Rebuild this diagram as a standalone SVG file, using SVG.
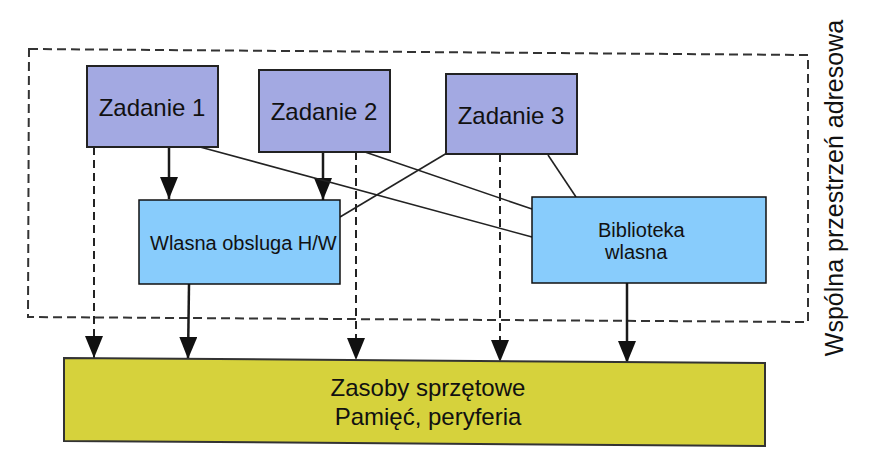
<svg xmlns="http://www.w3.org/2000/svg" width="882" height="469" viewBox="0 0 882 469">
<style>
text{font-family:"Liberation Sans",Arial,sans-serif;fill:#111}
.task{fill:#a3a9e2;stroke:#222;stroke-width:2}
.blue{fill:#88ccfc;stroke:#111;stroke-width:1.5}
.hw{fill:#d6d23c;stroke:#333;stroke-width:2}
.solid{stroke:#1a1a1a;stroke-width:2.5;fill:none}
.thin{stroke:#222;stroke-width:1.6;fill:none}
.dash{stroke:#222;stroke-width:2;stroke-dasharray:8 5;fill:none}
</style>
<defs>
<marker id="ah" viewBox="0 0 22 18" refX="22" refY="9" markerWidth="22" markerHeight="18" markerUnits="userSpaceOnUse" orient="auto">
<path d="M0,0 L22,9 L0,18 z" fill="#111"/>
</marker>
</defs>
<rect width="882" height="469" fill="#ffffff"/>
<g id="address-space">
<polygon points="29,49 808,55 808,322 28,317" fill="none" stroke="#333" stroke-width="2" stroke-dasharray="9 5"/>
<text transform="translate(843,188) rotate(-90)" text-anchor="middle" font-size="25">Wspólna przestrzeń adresowa</text>
</g>
<g id="connectors">
<line class="solid" x1="169" y1="147" x2="169" y2="199" marker-end="url(#ah)"/>
<line class="solid" x1="323" y1="152" x2="323" y2="200" marker-end="url(#ah)"/>
<line class="dash" x1="94" y1="147" x2="94" y2="358" marker-end="url(#ah)"/>
<line class="solid" x1="189" y1="284" x2="188" y2="359" stroke-width="2" marker-end="url(#ah)"/>
<line class="dash" x1="356" y1="152" x2="356" y2="360" marker-end="url(#ah)"/>
<line class="dash" x1="500" y1="154" x2="500" y2="362" marker-end="url(#ah)"/>
<line class="solid" x1="627" y1="283" x2="627" y2="363" stroke-width="2" marker-end="url(#ah)"/>
<line class="thin" x1="200" y1="147" x2="532" y2="237"/>
<line class="thin" x1="365" y1="152" x2="532" y2="209"/>
<line class="thin" x1="447" y1="153" x2="340" y2="217"/>
<line class="thin" x1="548" y1="155" x2="576" y2="197"/>
</g>
<g id="zadanie1">
<rect class="task" x="87" y="66" width="131" height="81"/>
<text x="152" y="116" text-anchor="middle" font-size="24">Zadanie 1</text>
</g>
<g id="zadanie2">
<rect class="task" x="259" y="70" width="131" height="82"/>
<text x="324" y="120" text-anchor="middle" font-size="24">Zadanie 2</text>
</g>
<g id="zadanie3">
<rect class="task" x="446" y="74" width="131" height="80"/>
<text x="511" y="124" text-anchor="middle" font-size="24">Zadanie 3</text>
</g>
<g id="wlasna-obsluga">
<rect class="blue" x="139" y="200" width="201" height="84"/>
<text x="150" y="250" font-size="20">Wlasna obsluga H/W</text>
</g>
<g id="biblioteka">
<rect class="blue" x="532" y="197" width="234" height="86"/>
<text x="598" y="237" font-size="20">Biblioteka</text>
<text x="605" y="259" font-size="20">wlasna</text>
</g>
<g id="zasoby">
<polygon class="hw" points="64,358 765,363 765,446 64,441"/>
<text x="428" y="396" text-anchor="middle" font-size="24">Zasoby sprzętowe</text>
<text x="428" y="425" text-anchor="middle" font-size="24">Pamięć, peryferia</text>
</g>
</svg>
